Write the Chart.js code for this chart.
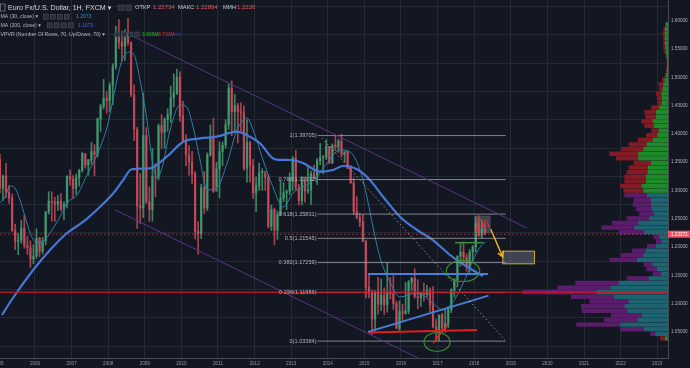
<!DOCTYPE html>
<html>
<head>
<meta charset="utf-8">
<script src="https://cdn.jsdelivr.net/npm/chart.js@4.4.0/dist/chart.umd.min.js"></script>
<style>
  html, body { margin: 0; padding: 0; background: #131722; overflow: hidden; }
  #wrap { width: 690px; height: 368px; }
</style>
</head>
<body>
<div id="wrap"><canvas id="chart" width="690" height="368"></canvas></div>
<script>
// EUR/USD, monthly candles Jan 2005 .. Apr 2018
const startYear = 2005;
const firstOpen = 1.3554;
const closes = [
  1.3040, 1.3255, 1.2965, 1.2865, 1.2295, 1.2100, 1.2125, 1.2330, 1.2030, 1.1990, 1.1790, 1.1840,
  1.2155, 1.1925, 1.2110, 1.2625, 1.2810, 1.2795, 1.2760, 1.2810, 1.2670, 1.2760, 1.3245, 1.3200,
  1.3035, 1.3225, 1.3355, 1.3650, 1.3450, 1.3540, 1.3690, 1.3635, 1.4265, 1.4485, 1.4630, 1.4590,
  1.4860, 1.5185, 1.5790, 1.5620, 1.5545, 1.5755, 1.5610, 1.4690, 1.4080, 1.2725, 1.2690, 1.3970,
  1.2800, 1.2665, 1.3245, 1.3235, 1.4150, 1.4030, 1.4255, 1.4335, 1.4640, 1.4720, 1.5000, 1.4320,
  1.3865, 1.3625, 1.3510, 1.3295, 1.2275, 1.2235, 1.3050, 1.2690, 1.3630, 1.3935, 1.2985, 1.3380,
  1.3690, 1.3800, 1.4160, 1.4810, 1.4395, 1.4500, 1.4390, 1.4375, 1.3390, 1.3850, 1.3440, 1.2960,
  1.3085, 1.3315, 1.3340, 1.3235, 1.2365, 1.2665, 1.2300, 1.2575, 1.2860, 1.2960, 1.2985, 1.3190,
  1.3575, 1.3055, 1.2820, 1.3170, 1.2990, 1.3010, 1.3300, 1.3220, 1.3525, 1.3580, 1.3590, 1.3780,
  1.3485, 1.3800, 1.3770, 1.3870, 1.3635, 1.3690, 1.3390, 1.3130, 1.2630, 1.2525, 1.2450, 1.2100,
  1.1290, 1.1195, 1.0730, 1.1220, 1.0990, 1.1145, 1.0980, 1.1210, 1.1175, 1.1005, 1.0565, 1.0860,
  1.0830, 1.0870, 1.1380, 1.1450, 1.1130, 1.1105, 1.1175, 1.1160, 1.1240, 1.0980, 1.0590, 1.0520,
  1.0800, 1.0575, 1.0650, 1.0895, 1.1240, 1.1425, 1.1840, 1.1910, 1.1815, 1.1645, 1.1905, 1.2005,
  1.2415, 1.2195, 1.2320, 1.2227
];
const highs = [
  1.3640, 1.3275, 1.3480, 1.3090, 1.2935, 1.2405, 1.2240, 1.2475, 1.2560, 1.2185, 1.2110, 1.2040,
  1.2325, 1.2175, 1.2170, 1.2625, 1.2980, 1.2975, 1.2880, 1.2915, 1.2945, 1.2800, 1.3265, 1.3365,
  1.3265, 1.3290, 1.3375, 1.3680, 1.3650, 1.3550, 1.3850, 1.3810, 1.4280, 1.4525, 1.4965, 1.4745,
  1.4900, 1.5240, 1.5905, 1.6020, 1.5815, 1.5845, 1.6040, 1.5625, 1.4865, 1.4115, 1.3300, 1.4720,
  1.4110, 1.3065, 1.3740, 1.3480, 1.4175, 1.4340, 1.4285, 1.4445, 1.4845, 1.5060, 1.5145, 1.5100,
  1.4580, 1.3990, 1.3795, 1.3690, 1.3335, 1.2450, 1.3110, 1.3335, 1.3665, 1.4160, 1.4280, 1.3500,
  1.3860, 1.3860, 1.4250, 1.4880, 1.4940, 1.4700, 1.4540, 1.4550, 1.4495, 1.4250, 1.3875, 1.3550,
  1.3235, 1.3485, 1.3385, 1.3285, 1.3285, 1.2745, 1.2690, 1.2640, 1.3170, 1.3140, 1.3010, 1.3310,
  1.3600, 1.3710, 1.3110, 1.3245, 1.3240, 1.3415, 1.3345, 1.3450, 1.3570, 1.3830, 1.3620, 1.3895,
  1.3775, 1.3825, 1.3965, 1.3905, 1.3995, 1.3675, 1.3700, 1.3445, 1.3220, 1.2890, 1.2600, 1.2570,
  1.2125, 1.1535, 1.1240, 1.1225, 1.1465, 1.1435, 1.1280, 1.1715, 1.1460, 1.1495, 1.1045, 1.1050,
  1.0990, 1.1375, 1.1410, 1.1465, 1.1615, 1.1425, 1.1185, 1.1365, 1.1325, 1.1280, 1.1300, 1.0720,
  1.0800, 1.0830, 1.0905, 1.0950, 1.1265, 1.1445, 1.1845, 1.2070, 1.2090, 1.1880, 1.1960, 1.2025,
  1.2535, 1.2555, 1.2475, 1.2415
];
const lows = [
  1.2955, 1.2820, 1.2875, 1.2770, 1.2275, 1.1955, 1.1865, 1.2070, 1.1980, 1.1870, 1.1640, 1.1705,
  1.1800, 1.1830, 1.1880, 1.2035, 1.2580, 1.2455, 1.2455, 1.2650, 1.2640, 1.2485, 1.2690, 1.3095,
  1.2865, 1.2935, 1.3080, 1.3325, 1.3395, 1.3270, 1.3465, 1.3260, 1.3590, 1.4045, 1.4440, 1.4365,
  1.4395, 1.4515, 1.5140, 1.5505, 1.5285, 1.5300, 1.5570, 1.4660, 1.3880, 1.2330, 1.2420, 1.2520,
  1.2765, 1.2455, 1.2455, 1.2890, 1.3185, 1.3745, 1.3750, 1.4045, 1.4200, 1.4480, 1.4695, 1.4220,
  1.3860, 1.3440, 1.3265, 1.3115, 1.2145, 1.1875, 1.2150, 1.2590, 1.2640, 1.3605, 1.2965, 1.3070,
  1.2870, 1.3440, 1.3750, 1.4080, 1.3970, 1.4015, 1.3840, 1.4050, 1.3360, 1.3145, 1.3145, 1.2860,
  1.2625, 1.3000, 1.3000, 1.3000, 1.2335, 1.2290, 1.2040, 1.2135, 1.2560, 1.2800, 1.2660, 1.2925,
  1.3000, 1.3000, 1.2745, 1.2745, 1.2795, 1.2950, 1.2755, 1.3205, 1.3105, 1.3455, 1.3295, 1.3545,
  1.3475, 1.3475, 1.3705, 1.3675, 1.3585, 1.3500, 1.3390, 1.3130, 1.2570, 1.2500, 1.2360, 1.2100,
  1.1100, 1.1100, 1.0460, 1.0520, 1.0815, 1.0880, 1.0810, 1.0850, 1.1085, 1.0895, 1.0555, 1.0525,
  1.0710, 1.0810, 1.0820, 1.1235, 1.1095, 1.0910, 1.0950, 1.1045, 1.1120, 1.0850, 1.0570, 1.0350,
  1.0340, 1.0495, 1.0495, 1.0570, 1.0840, 1.1120, 1.1310, 1.1660, 1.1715, 1.1575, 1.1555, 1.1715,
  1.1915, 1.2190, 1.2155, 1.2215
];

// moving averages (year, price)
const ma30Years = [2005.04, 2005.18, 2005.32, 2005.45, 2005.59, 2005.73, 2005.86, 2006.00, 2006.14, 2006.27,
  2006.41, 2006.55, 2006.74, 2006.87, 2007.15, 2007.42, 2007.69, 2007.97, 2008.13, 2008.27, 2008.40, 2008.60,
  2008.73, 2008.87, 2009.06, 2009.20, 2009.33, 2009.47, 2009.69, 2009.96, 2010.15, 2010.32, 2010.51, 2010.70,
  2010.97, 2011.25, 2011.52, 2011.79, 2011.96, 2012.23, 2012.50, 2012.78, 2013.05, 2013.32, 2013.70, 2013.98,
  2014.33, 2014.61, 2014.88, 2015.07, 2015.24, 2015.43, 2015.70, 2015.97, 2016.44, 2016.87, 2017.15, 2017.42,
  2017.61, 2017.80, 2017.97, 2018.16, 2018.30];
const ma30Values = [1.2779, 1.2885, 1.3079, 1.3044, 1.2832, 1.2532, 1.2267, 1.2090, 1.2072, 1.2125,
  1.2249, 1.2390, 1.2602, 1.2779, 1.2920, 1.3274, 1.3627, 1.4122, 1.4599, 1.5041, 1.5341, 1.5447,
  1.5359, 1.4952, 1.4246, 1.3539, 1.3221, 1.3397, 1.4069, 1.4511, 1.4475, 1.4122, 1.3539, 1.3009,
  1.3044, 1.3486, 1.4069, 1.4281, 1.4069, 1.3539, 1.3062, 1.2708, 1.2956, 1.3062, 1.3238, 1.3486,
  1.3716, 1.3680, 1.3362, 1.2885, 1.2337, 1.1807, 1.1383, 1.1118, 1.1189, 1.1012, 1.0889, 1.1030,
  1.1242, 1.1507, 1.1772, 1.2002, 1.2090];
const ma200Years = [2005.10, 2005.36, 2005.95, 2006.41, 2006.87, 2007.32, 2007.78, 2008.14, 2008.41, 2008.64,
  2009.14, 2009.60, 2010.05, 2010.51, 2010.96, 2011.51, 2011.78, 2012.15, 2012.56, 2012.97, 2013.32, 2013.79,
  2014.14, 2014.42, 2014.80, 2015.15, 2015.51, 2015.97, 2016.44, 2016.87, 2017.34, 2017.80, 2018.24];
const ma200Values = [1.0800, 1.1065, 1.1595, 1.1948, 1.2244, 1.2449, 1.2714, 1.2951, 1.3186, 1.3375,
  1.3392, 1.3597, 1.3862, 1.3922, 1.3951, 1.4039, 1.3981, 1.3834, 1.3551, 1.3539, 1.3486, 1.3332,
  1.3362, 1.3433, 1.3375, 1.3186, 1.2890, 1.2537, 1.2302, 1.2125, 1.1860, 1.1654, 1.1489];

// volume profile (70 rows, top row first)
const vpTop = 1.5936;
const vpStep = 0.008163;
const vpUp = [5, 8, 9, 8, 8, 7, 5, 4, 2, 2, 3, 5, 9, 13, 15, 18, 17, 18, 25, 35, 35, 45, 41, 27, 31, 45, 63, 73, 88, 88,
  50, 59, 60, 65, 65, 78, 73, 62, 50, 50, 48, 40, 55, 88, 100, 70, 25, 18, 35, 65, 73, 92, 45, 32, 20, 57, 147, 172, 213, 160,
  117, 129, 120, 77, 90, 142, 70, 37, 8];
const vpDown = [3, 5, 6, 5, 5, 6, 5, 2, 1, 1, 2, 4, 8, 14, 10, 17, 15, 12, 24, 35, 32, 34, 29, 22, 34, 45, 54, 66, 87, 67,
  52, 58, 63, 65, 65, 65, 60, 68, 52, 55, 47, 45, 68, 79, 99, 77, 18, 17, 27, 42, 67, 83, 27, 32, 25, 66, 130, 159, 222, 130,
  118, 131, 138, 93, 100, 132, 72, 15, 15];
const vaFirstRow = 37, vaLastRow = 67;
const pocPrice = 1.1202;
const lastPrice = 1.22272;

// drawings (year, price)
const fibLevels = ["0", "0.236", "0.382", "0.5", "0.618", "0.786", "1"];
const fibPrices = [1.03384, 1.11956, 1.17259, 1.21545, 1.25831, 1.31932, 1.39705];
const fibFrom = 2013.72, fibTo = 2018.86;
const channelTop = [[2008.60, 1.5747], [2019.44, 1.2337]];
const channelBottom = [[2008.19, 1.2656], [2016.46, 1.0041]];
const dottedLine = [[2013.84, 1.3928], [2018.84, 1.0359]];
const blueLevel = [[2015.10, 1.1525], [2018.38, 1.1525]];
const blueRising = [[2015.10, 1.0500], [2018.39, 1.1141]];
const redSupport = [[2015.11, 1.0491], [2018.08, 1.0535]];
const redStroke = [[2016.88, 1.0300], [2017.29, 1.0654]];
const greenLevel = [[2017.475, 1.2078], [2018.25, 1.2078]];
const zigYears = [2018.049, 2018.104, 2018.186, 2018.240, 2018.295, 2018.363, 2018.418];
const zigPrices = [1.2267, 1.2461, 1.2496, 1.2355, 1.2479, 1.2443, 1.2337];
const arrowLine = [[2018.451, 1.2314], [2018.779, 1.1830]];
const boxRange = [[2018.003, 1.2244], [2018.451, 1.2555]];
const targetBox = [[2018.768, 1.1696], [2019.661, 1.1936]];
const ellipses = [
  { t: 2017.694, p: 1.1578, rt: 0.456, rp: 0.0186 },
  { t: 2016.984, p: 1.0323, rt: 0.355, rp: 0.0168 }
];

const XMIN = 2005.044, XMAX = 2023.295;
const YMIN = 1.004, YMAX = 1.6366;

const opens = closes.map((c, i) => (i === 0 ? firstOpen : closes[i - 1]));
const monthT = closes.map((c, i) => startYear + (i + 0.5) / 12);
const upCol = "rgba(70,160,115,0.8)", downCol = "rgba(205,78,94,0.8)";
const candleCols = closes.map((c, i) => (c >= opens[i] ? upCol : downCol));
const inVA = (i) => i >= vaFirstRow && i <= vaLastRow;
const rowPrice = (i) => vpTop - i * vpStep;

function seg(pts, color, width, dash) {
  return {
    type: "line",
    data: pts.map((p) => ({ x: p[0], y: p[1] })),
    borderColor: color,
    borderWidth: width,
    borderDash: dash || [],
    pointRadius: 0,
    tension: 0,
    fill: false,
    order: 2,
    xAxisID: "x",
    yAxisID: "y",
  };
}

const datasets = [
  {
    type: "bar", indexAxis: "y", xAxisID: "xv", yAxisID: "y",
    data: vpUp.map((v, i) => ({ y: rowPrice(i), x: [0, v] })),
    backgroundColor: vpUp.map((v, i) => (inVA(i) ? "#1d6470" : "#1e8a2a")),
    barThickness: 3.7, grouped: false, order: 20,
  },
  {
    type: "bar", indexAxis: "y", xAxisID: "xv", yAxisID: "y",
    data: vpDown.map((v, i) => ({ y: rowPrice(i), x: [vpUp[i], vpUp[i] + v] })),
    backgroundColor: vpDown.map((v, i) => (inVA(i) ? "#5c1c6c" : "#821b24")),
    barThickness: 3.7, grouped: false, order: 20,
  },
  {
    type: "bar", xAxisID: "x", yAxisID: "y",
    data: monthT.map((t, i) => ({ x: t, y: [lows[i], highs[i]] })),
    backgroundColor: candleCols, barThickness: 1, grouped: false, order: 15,
  },
  {
    type: "bar", xAxisID: "x", yAxisID: "y",
    data: monthT.map((t, i) => ({ x: t, y: [opens[i], closes[i]] })),
    backgroundColor: candleCols, barThickness: 1.6, grouped: false, order: 14,
  },
  {
    type: "line", xAxisID: "x", yAxisID: "y",
    data: ma30Years.map((t, i) => ({ x: t, y: ma30Values[i] })),
    borderColor: "#2f7fa5", borderWidth: 1, pointRadius: 0,
    cubicInterpolationMode: "monotone", fill: false, order: 6,
  },
  {
    type: "line", xAxisID: "x", yAxisID: "y",
    data: ma200Years.map((t, i) => ({ x: t, y: ma200Values[i] })),
    borderColor: "#4677d4", borderWidth: 2.2, pointRadius: 0,
    cubicInterpolationMode: "monotone", fill: false, order: 5,
  },
  seg([[XMIN, pocPrice], [XMAX, pocPrice]], "rgba(200,24,40,0.85)", 1.3),
  seg([[XMIN, lastPrice], [XMAX, lastPrice]], "rgba(239,80,97,0.5)", 1, [2, 2]),
  seg(channelTop, "#5e3488", 1),
  seg(channelBottom, "#5e3488", 1),
  seg(dottedLine, "rgba(190,192,200,0.7)", 1, [1.5, 2.5]),
  seg(blueLevel, "#4a7fd8", 2),
  seg(blueRising, "#4a7fd8", 1.8),
  seg(redSupport, "#e01e1e", 2),
  seg(redStroke, "#f02828", 1.3),
  seg(greenLevel, "#3f8f3f", 1.5),
  seg(zigYears.map((t, i) => [t, zigPrices[i]]), "#ff2a2a", 1),
  seg(arrowLine, "#f0b323", 1.5),
];
fibPrices.forEach((p) => {
  datasets.push(seg([[fibFrom, p], [fibTo, p]], "rgba(165,168,176,0.75)", 1));
});

const overlay = {
  id: "overlay",
  beforeDatasetsDraw(chart) {
    const ctx = chart.ctx, xs = chart.scales.x, ys = chart.scales.y;
    ctx.save();
    // grey box round the 2018 range
    let x0 = xs.getPixelForValue(boxRange[0][0]), x1 = xs.getPixelForValue(boxRange[1][0]);
    let y0 = ys.getPixelForValue(boxRange[1][1]), y1 = ys.getPixelForValue(boxRange[0][1]);
    ctx.fillStyle = "rgba(120,124,136,0.45)";
    ctx.fillRect(x0, y0, x1 - x0, y1 - y0);
    // target zone
    x0 = xs.getPixelForValue(targetBox[0][0]); x1 = xs.getPixelForValue(targetBox[1][0]);
    y0 = ys.getPixelForValue(targetBox[1][1]); y1 = ys.getPixelForValue(targetBox[0][1]);
    ctx.fillStyle = "rgba(100,105,118,0.55)";
    ctx.fillRect(x0, y0, x1 - x0, y1 - y0);
    ctx.strokeStyle = "#c9a02c";
    ctx.lineWidth = 1;
    ctx.strokeRect(x0 + 0.5, y0 + 0.5, x1 - x0 - 1, y1 - y0 - 1);
    ctx.restore();
  },
  afterDatasetsDraw(chart) {
    const ctx = chart.ctx, xs = chart.scales.x, ys = chart.scales.y;
    ctx.save();
    // ellipses
    ctx.strokeStyle = "#3a8a2e";
    ctx.lineWidth = 1.2;
    ellipses.forEach((e) => {
      const cx = xs.getPixelForValue(e.t), cy = ys.getPixelForValue(e.p);
      const rx = xs.getPixelForValue(e.t + e.rt) - cx;
      const ry = cy - ys.getPixelForValue(e.p + e.rp);
      ctx.beginPath();
      ctx.ellipse(cx, cy, rx, ry, 0, 0, Math.PI * 2);
      ctx.stroke();
    });
    // arrow head
    const ax0 = xs.getPixelForValue(arrowLine[0][0]), ay0 = ys.getPixelForValue(arrowLine[0][1]);
    const ax1 = xs.getPixelForValue(arrowLine[1][0]), ay1 = ys.getPixelForValue(arrowLine[1][1]);
    const ang = Math.atan2(ay1 - ay0, ax1 - ax0);
    ctx.strokeStyle = "#f0b323";
    ctx.lineWidth = 1.5;
    ctx.beginPath();
    ctx.moveTo(ax1 - 6 * Math.cos(ang - 0.5), ay1 - 6 * Math.sin(ang - 0.5));
    ctx.lineTo(ax1, ay1);
    ctx.lineTo(ax1 - 6 * Math.cos(ang + 0.5), ay1 - 6 * Math.sin(ang + 0.5));
    ctx.stroke();
    // fib labels
    ctx.font = "5.6px 'Liberation Sans', sans-serif";
    ctx.fillStyle = "#b2b5be";
    ctx.textAlign = "right";
    ctx.textBaseline = "middle";
    const fx = xs.getPixelForValue(fibFrom) - 1;
    fibPrices.forEach((p, i) => {
      ctx.fillText(fibLevels[i] + "(" + p.toFixed(5) + ")", fx, ys.getPixelForValue(p));
    });
    ctx.restore();
  },
  afterDraw(chart) {
    const ctx = chart.ctx, ys = chart.scales.y, xs = chart.scales.x, area = chart.chartArea;
    ctx.save();
    // last price tag
    const py = ys.getPixelForValue(lastPrice);
    ctx.fillStyle = "#ef5365";
    ctx.fillRect(area.right, py - 3.5, 690 - area.right, 7);
    ctx.fillStyle = "#ffffff";
    ctx.font = "4.6px 'Liberation Sans', sans-serif";
    ctx.textBaseline = "middle";
    ctx.textAlign = "left";
    ctx.fillText(lastPrice.toFixed(5), area.right + 3, py + 0.3);
    // cut-off first year label
    ctx.fillStyle = "#9598a1";
    ctx.textAlign = "center";
    ctx.fillText("2005", xs.getPixelForValue(2005), 363.5);

    // legend header
    const F = (s) => s + "px 'Liberation Sans', 'DejaVu Sans', sans-serif";
    const txt = (s, x, y, size, col) => {
      ctx.font = F(size);
      ctx.fillStyle = col;
      ctx.textAlign = "left";
      ctx.fillText(s, x, y);
    };
    const icons = (x, y, n, w) => {
      for (let k = 0; k < n; k++) {
        ctx.fillStyle = "#2a2e39";
        ctx.fillRect(x + k * (w + 1.5), y - w / 2, w, w);
        ctx.strokeStyle = "#4a4e59";
        ctx.lineWidth = 0.6;
        ctx.strokeRect(x + k * (w + 1.5) + 0.3, y - w / 2 + 0.3, w - 0.6, w - 0.6);
      }
    };
    ctx.strokeStyle = "#787b86";
    ctx.lineWidth = 0.8;
    ctx.strokeRect(0.5, 4, 4.5, 7);
    txt("Euro Fx/U.S. Dollar, 1H, FXCM \u25BE", 8, 7.8, 7.1, "#d1d4dc");
    icons(118, 7.8, 2, 6);
    txt("\u041E\u0422\u041A\u0420", 135, 7.8, 5.8, "#c4c7cf");
    txt("1.22734", 153, 7.8, 6, "#ef5350");
    txt("\u041C\u0410\u041A\u0421", 178, 7.8, 5.8, "#c4c7cf");
    txt("1.22894", 196, 7.8, 6, "#ef5350");
    txt("\u041C\u0418\u041D", 223, 7.8, 5.8, "#c4c7cf");
    txt("1.2226", 237, 7.8, 6, "#ef5350");

    txt("MA (30, close) \u25BE", 0.5, 16.7, 5.2, "#b2b5be");
    icons(43, 16.7, 4, 5.5);
    txt("1.2073", 76, 16.7, 5, "#3a8fbf");
    txt("MA (200, close) \u25BE", 0.5, 25.4, 5.2, "#b2b5be");
    icons(47, 25.4, 4, 5.5);
    txt("1.1673", 78, 25.4, 5, "#4a66d4");
    txt("VPVR (Number Of Rows, 70, Up/Down, 70) \u25BE", 0.5, 34.3, 5.2, "#b2b5be");
    icons(115, 34.3, 4, 5);
    txt("3.656M", 142, 34.3, 5, "#22c022");
    txt("3.733M", 158, 34.3, 5, "#e03030");
    txt("n/a", 174, 34.3, 5, "#2a3cc0");
    ctx.restore();
  },
};

const tickFont = { size: 4.6, family: "'Liberation Sans', sans-serif" };
const gridCol = "#252934";

new Chart(document.getElementById("chart").getContext("2d"), {
  type: "bar",
  data: { datasets },
  options: {
    responsive: false,
    animation: false,
    events: [],
    layout: { padding: 0 },
    plugins: { legend: { display: false }, tooltip: { enabled: false } },
    scales: {
      x: {
        type: "linear", position: "bottom", min: XMIN, max: XMAX, offset: false,
        grid: { color: gridCol, drawTicks: false, offset: false },
        border: { display: true, color: "#464a55" },
        ticks: {
          stepSize: 1, includeBounds: false, autoSkip: false, maxRotation: 0,
          color: "#9598a1", font: tickFont, padding: 3,
          callback: (v) => String(Math.round(v)),
        },
        afterFit: (s) => { s.height = 10; s.paddingLeft = 0; s.paddingRight = 0; },
      },
      xv: {
        type: "linear", position: "bottom", display: false, reverse: true,
        min: 0, max: 2004, offset: false, grid: { display: false, offset: false },
      },
      y: {
        type: "linear", position: "right", min: YMIN, max: YMAX, offset: false,
        grid: { color: gridCol, drawTicks: false },
        border: { display: true, color: "#464a55" },
        ticks: {
          stepSize: 0.05, includeBounds: false, color: "#b2b5be", font: tickFont, padding: 3,
          callback: (v) => v.toFixed(5),
        },
        afterFit: (s) => { s.width = 22; s.paddingTop = 0; s.paddingBottom = 0; },
      },
    },
  },
  plugins: [overlay],
});
</script>
</body>
</html>
